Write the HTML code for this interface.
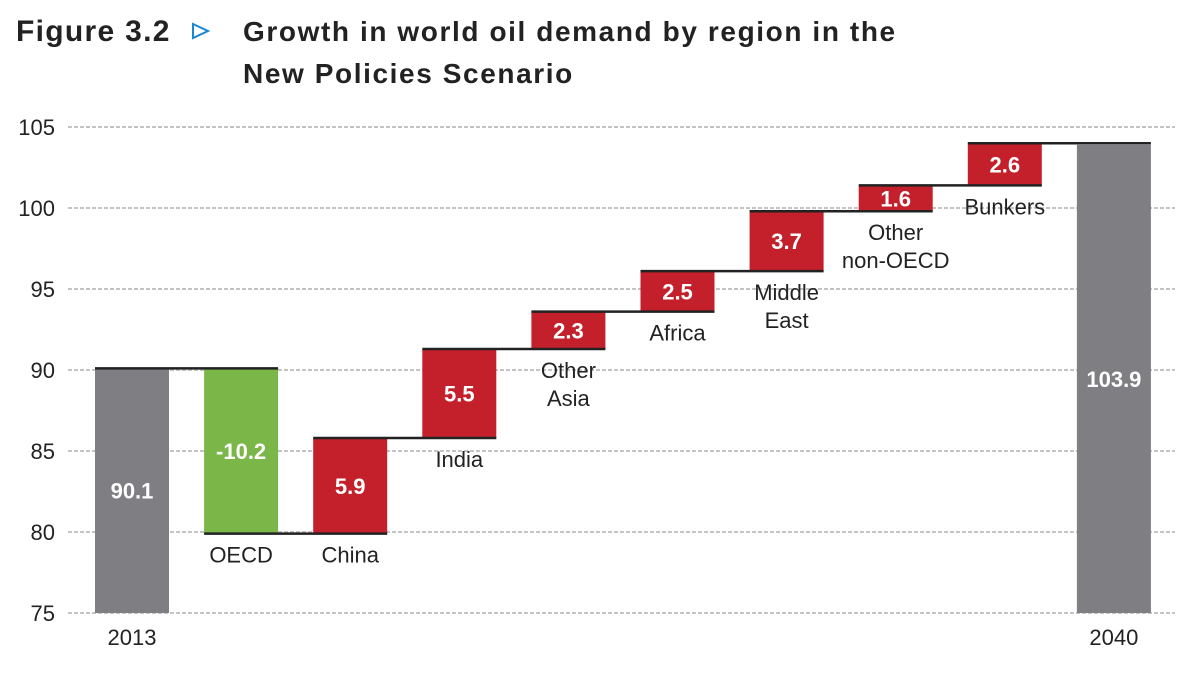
<!DOCTYPE html>
<html><head><meta charset="utf-8"><style>
body{margin:0;background:#fff;width:1200px;height:680px;overflow:hidden;font-family:"Liberation Sans",sans-serif}
</style></head><body>
<svg width="1200" height="680" xmlns="http://www.w3.org/2000/svg">
<text x="16" y="41" font-size="30" font-weight="900" fill="#222" style="letter-spacing:1.3px">Figure 3.2</text>
<polygon points="193,24 208,31 193,38" fill="none" stroke="#1a88d0" stroke-width="2"/>
<text x="243" y="41" font-size="28" font-weight="bold" fill="#222" style="letter-spacing:1.6px">Growth in world oil demand by region in the</text>
<text x="243" y="83" font-size="28" font-weight="bold" fill="#222" style="letter-spacing:1.6px">New Policies Scenario</text>
<g id="grid"></g><g id="bars"></g>
</svg>
<script>
const categories=["2013","OECD","China","India","Other Asia","Africa","Middle East","Other non-OECD","Bunkers","2040"];
const deltas=[90.1,-10.2,5.9,5.5,2.3,2.5,3.7,1.6,2.6,103.9];
const valueLabels=["90.1","-10.2","5.9","5.5","2.3","2.5","3.7","1.6","2.6","103.9"];
const catLabels=[["2013"],["OECD"],["China"],["India"],["Other","Asia"],["Africa"],["Middle","East"],["Other","non-OECD"],["Bunkers"],["2040"]];
const yTicks=[75,80,85,90,95,100,105];
const NS="http://www.w3.org/2000/svg";
const y=v=>613-(v-75)*16.2;
const x0=i=>95+i*109.1, bw=74;
const grid=document.getElementById('grid'),bars=document.getElementById('bars');
function mk(tag,attrs,parent){const e=document.createElementNS(NS,tag);for(const k in attrs)e.setAttribute(k,attrs[k]);parent.appendChild(e);return e;}
yTicks.forEach(t=>{
 const l=mk('line',{x1:68,x2:1175,y1:y(t),y2:y(t),stroke:'#c4c4c4','stroke-width':2,'stroke-dasharray':'4,2'},grid);
 
 
 const tx=mk('text',{x:55,y:y(t)+8,'text-anchor':'end','font-size':22,fill:'#222'},grid);tx.textContent=t;
 
 
});
let level=0;const n=categories.length;const tops=[];
for(let i=0;i<n;i++){
 let lo,hi,color;
 if(i===0||i===n-1){lo=75;hi=deltas[i];color='#7f7e83';level=deltas[i];}
 else{const nl=level+deltas[i];lo=Math.min(level,nl);hi=Math.max(level,nl);color=deltas[i]<0?'#7ab648':'#c4202b';level=nl;}
 tops.push(level);
 const r=mk('rect',{x:x0(i),y:y(hi),width:bw,height:y(lo)-y(hi),fill:color},bars);
 
 
 const v=mk('text',{x:x0(i)+bw/2,y:(y(hi)+y(lo))/2+8,'text-anchor':'middle','font-size':22,'font-weight':'bold',fill:'#fff'},bars);v.textContent=valueLabels[i];
 
 
 const baseY=(i===0||i===n-1)?645:y(lo)+29;
 catLabels[i].forEach((s,j)=>{const c=mk('text',{x:x0(i)+bw/2,y:baseY+j*28,'text-anchor':'middle','font-size':22,fill:'#222'},bars);c.textContent=s;
  
  });
}
for(let i=0;i<n-1;i++){
 const l=mk('line',{x1:x0(i),x2:x0(i+1)+bw,y1:y(tops[i]),y2:y(tops[i]),stroke:'#222','stroke-width':2.5},bars);
 
 
}
</script>
</body></html>
